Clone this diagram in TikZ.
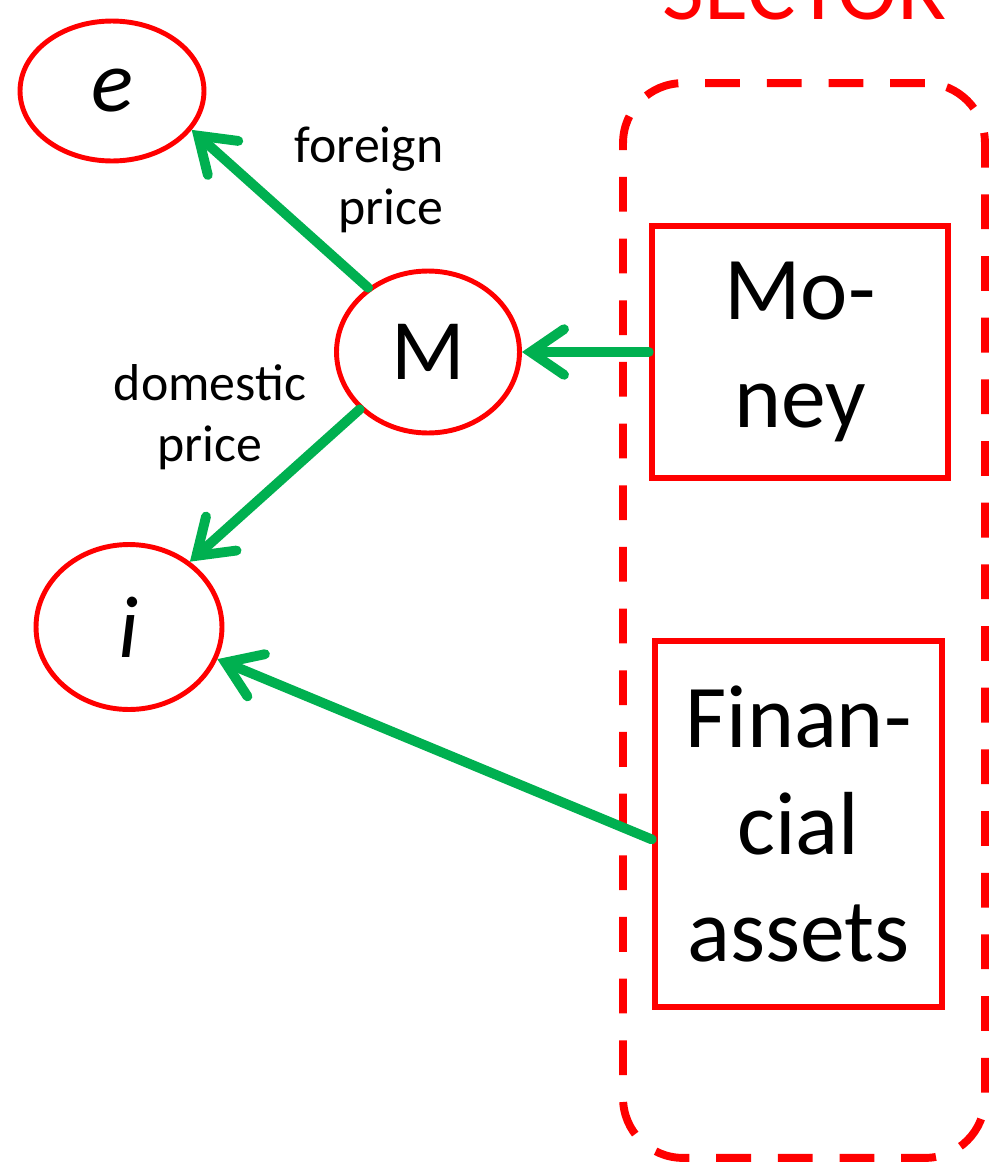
\documentclass[tikz,border=0pt]{standalone}
\usepackage{fontspec}
\setmainfont{Carlito}
\usetikzlibrary{arrows.meta,shapes.geometric,shadows}
\definecolor{pgreen}{RGB}{0,176,80}
\definecolor{pred}{RGB}{255,0,0}
\begin{document}
\begin{tikzpicture}[x=0.02cm,y=-0.02cm,
  var/.style={ellipse, draw=pred, line width=2.8pt, inner sep=0pt},
  sectbox/.style={draw=pred, fill=white, line width=3.7pt, align=center,
    font=\fontsize{51}{61}\selectfont, inner sep=0pt,
    drop shadow={opacity=0.25, shadow xshift=2pt, shadow yshift=-2pt}},
  frame/.style={draw=pred, line width=4.5pt, rounded corners=1.2cm,
    dash pattern=on 19.8pt off 15.3pt, inner sep=0pt},
  link/.style={draw=pgreen, line width=5.6pt, line cap=round,
    -{Straight Barb[length=19pt,width=26pt,line cap=round]}},
  lbl/.style={font=\fontsize{29.5}{35}\selectfont}]
\useasboundingbox (0,0) rectangle (998,1163);
% sector frame and title
\node[frame, minimum width=7.24cm, minimum height=21.5cm] (sector) at (804,620.5) {};
\node[text=pred, font=\fontsize{51.6}{60}\selectfont, anchor=base] (title) at (805,19) {SECTOR};
% boxes
\node[sectbox, minimum width=5.92cm, minimum height=5.04cm] (money) at (800,352) {Mo-\\ney};
\node[sectbox, minimum width=5.74cm, minimum height=7.32cm] (fin) at (798.5,824) {Finan-\\cial\\assets};
% variables
\node[var, minimum width=3.68cm, minimum height=2.8cm, font=\fontsize{50}{60}\selectfont\itshape] (e) at (112,91) {e};
\node[var, minimum width=3.66cm, minimum height=3.24cm, font=\fontsize{49}{58}\selectfont] (M) at (428,352) {M};
\node[var, minimum width=3.72cm, minimum height=3.3cm, font=\fontsize{50}{60}\selectfont\itshape] (i) at (129,627) {i};
% labels
\node[lbl, align=right] (fp) at (369,180) {foreign\\price};
\node[lbl, align=center] (dp) at (210,417) {domestic\\price};
% connectors
\draw[link] (M.133) -- (e.-26);
\draw[link] (M.220) -- (i.47);
\draw[link] (money.west) -- (M.east);
\draw[link] (fin.186) -- (i.-20);
\end{tikzpicture}
\end{document}
